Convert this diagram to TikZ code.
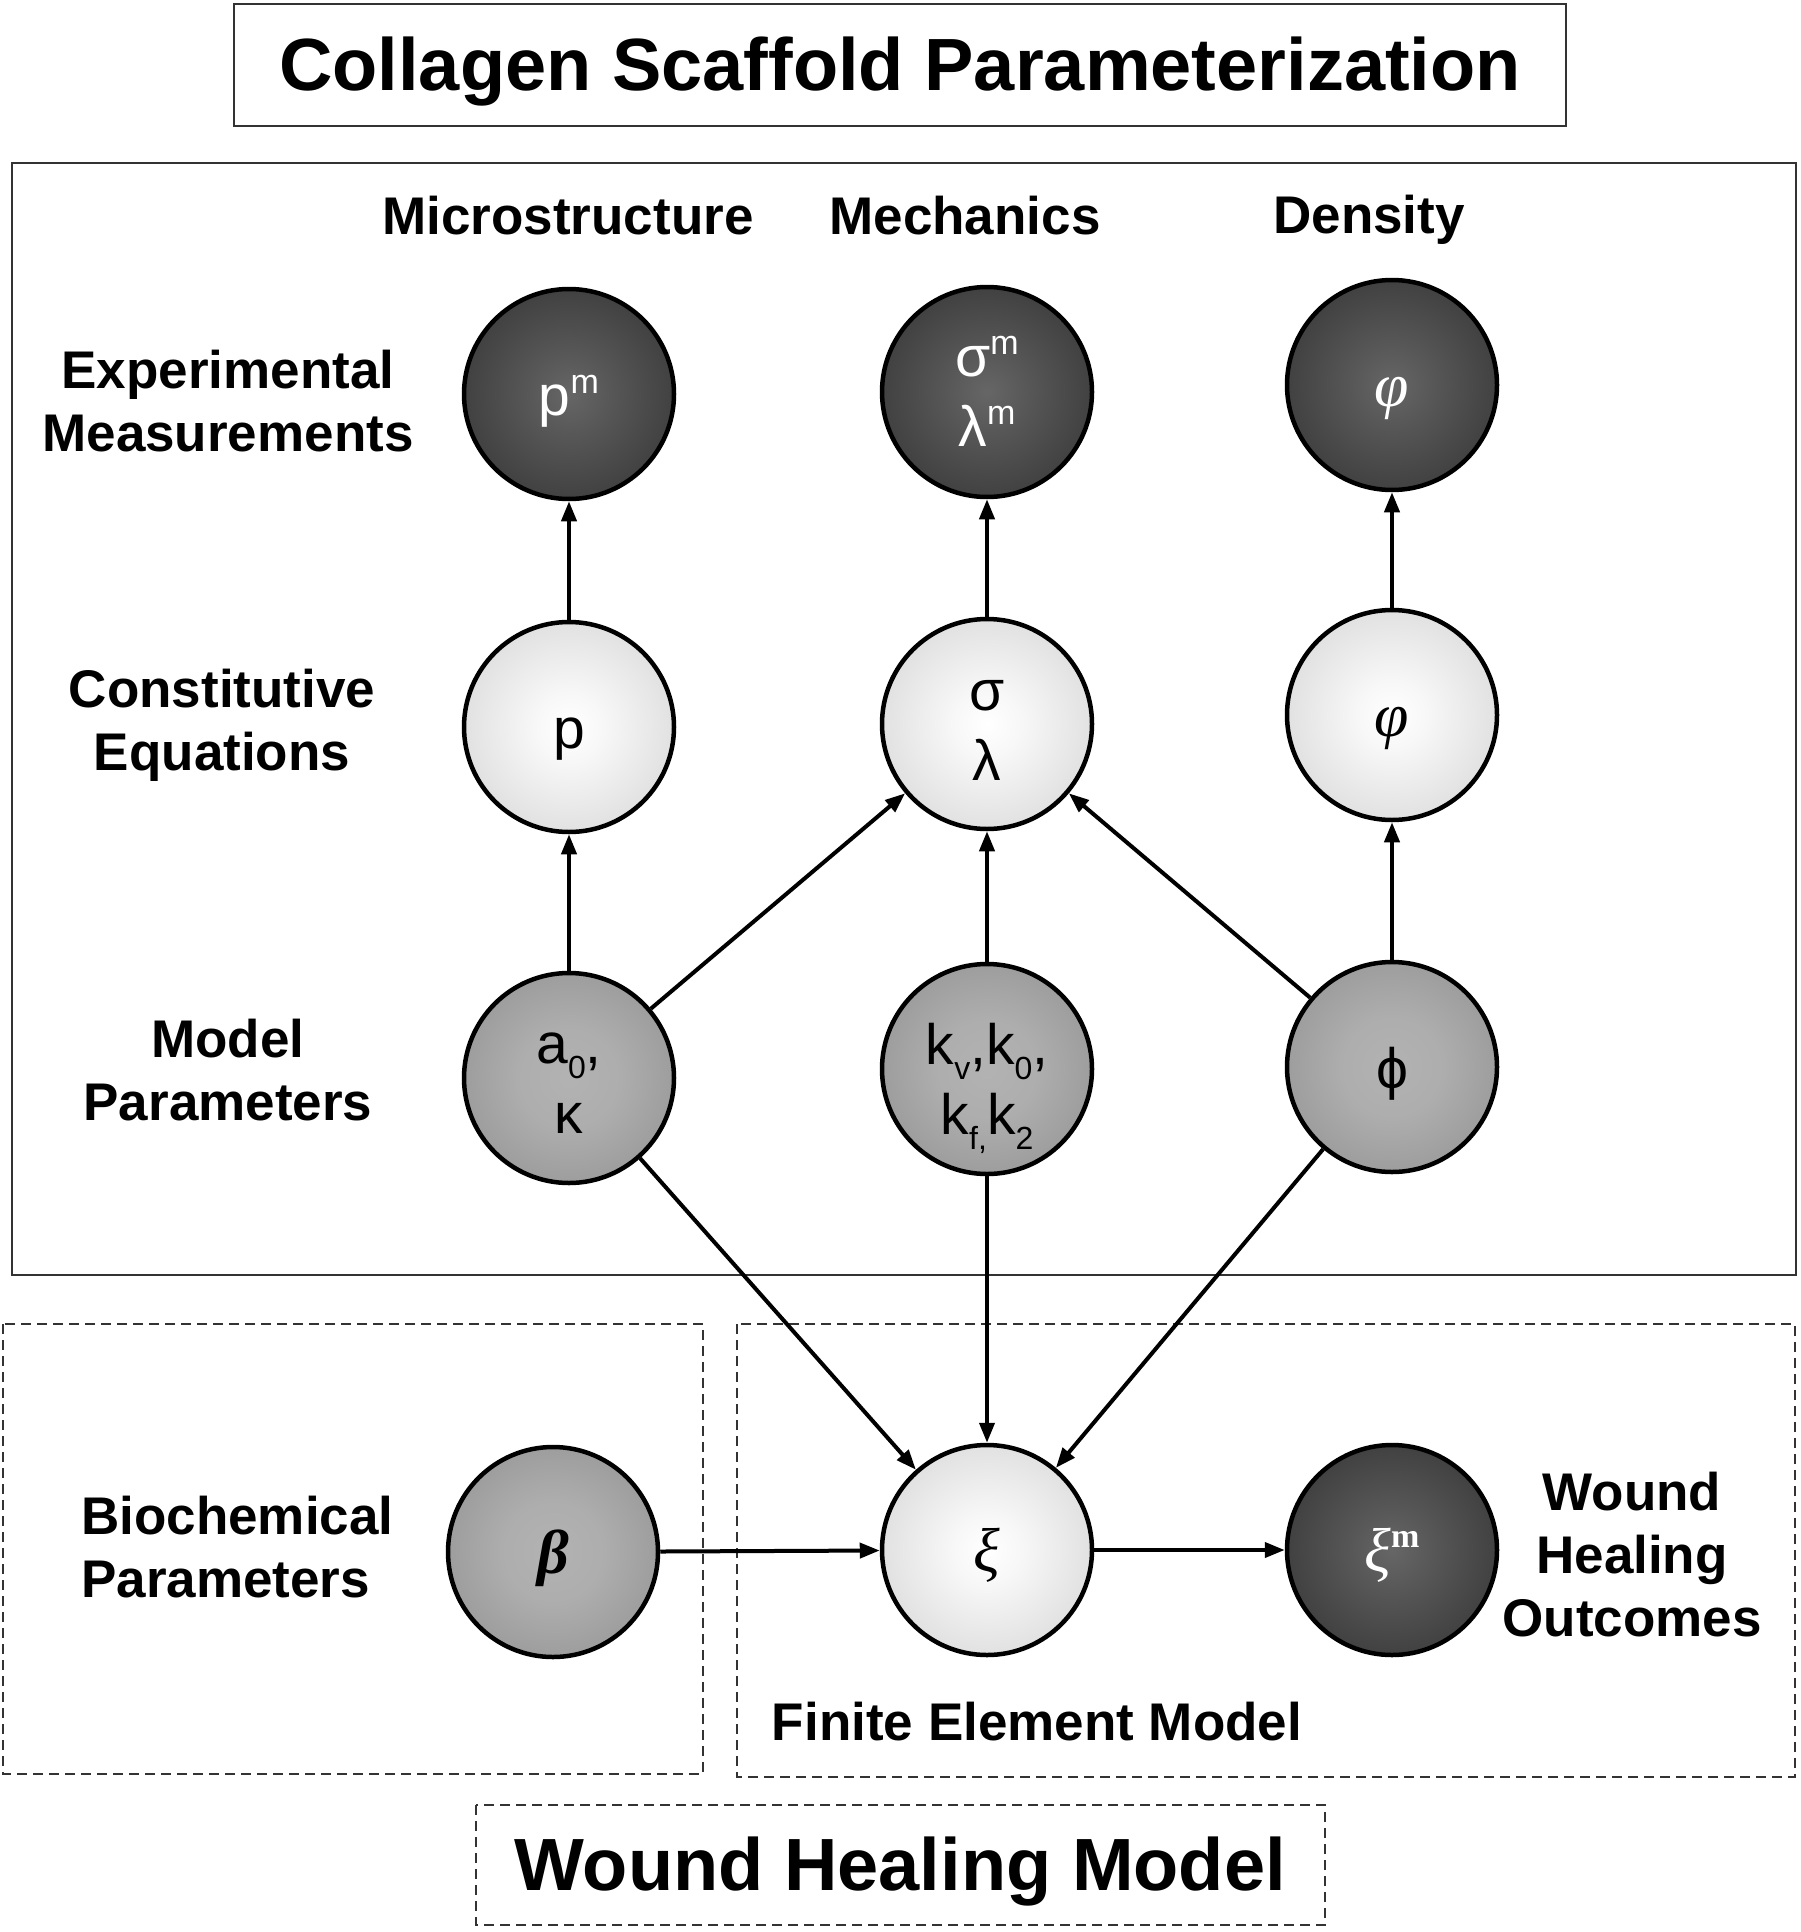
\documentclass[tikz,border=0pt]{standalone}
\usepackage{fontspec}
\setmainfont{Liberation Sans}
\newfontfamily\serifgr{Liberation Serif}
\usetikzlibrary{arrows.meta,shadings}
\pgfdeclareradialshading{darkball}{\pgfpoint{0bp}{0bp}}{color(0bp)=(black!60); color(10bp)=(black!66); color(49bp)=(black!88); color(50bp)=(black!88)}
\pgfdeclareradialshading{midball}{\pgfpoint{0bp}{0bp}}{color(0bp)=(black!30); color(12bp)=(black!32); color(49bp)=(black!50); color(50bp)=(black!50)}
\pgfdeclareradialshading{lightball}{\pgfpoint{0bp}{0bp}}{color(0bp)=(white); color(8bp)=(black!3); color(49bp)=(black!24); color(50bp)=(black!24)}
\newcommand{\supm}[1]{\raisebox{0.38em}{\fontsize{34}{34}\selectfont #1}}
\newcommand{\subx}[1]{\raisebox{-0.27em}{\fontsize{32}{32}\selectfont #1}}
\newcommand{\lowone}[1]{\raisebox{-21pt}[0pt][0pt]{#1}}
\newcommand{\lowtwo}[3]{\raisebox{-#1}[0pt][0pt]{\begin{tabular}[b]{@{}c@{}}#2\\#3\end{tabular}}}
\tikzset{
  ball/.style={circle, draw=black, line width=4.5pt, minimum size=210pt, inner sep=0pt,
    font=\fontsize{57}{70}\selectfont},
  darkb/.style={ball, shading=darkball, text=white},
  midb/.style={ball, shading=midball},
  lightb/.style={ball, shading=lightball},
  lab/.style={font=\fontsize{53}{63}\selectfont\bfseries, align=center, inner sep=0pt},
  bigtitle/.style={font=\fontsize{74}{80}\selectfont\bfseries, inner sep=0pt},
  conn/.style={line width=4pt, -{Triangle[length=20pt,width=15pt]}},
  dbox/.style={draw=black!80, line width=2.5pt, dash pattern=on 10pt off 6pt},
  sbox/.style={draw=black!80, line width=2.5pt},
  grk/.style={font=\fontsize{62}{68}\selectfont\serifgr\itshape},
}
\begin{document}
\begin{tikzpicture}[x=1pt,y=1pt]
\useasboundingbox (0,0) rectangle (1800,-1932);
% boxes
\draw[sbox] (234,-4) rectangle (1566,-126);
\node[bigtitle] (title) at (900,-72) {Collagen Scaffold Parameterization};
\draw[sbox] (12,-163) rectangle (1796,-1275);
\draw[dbox] (3,-1324) rectangle (703,-1774);
\draw[dbox] (737,-1324) rectangle (1795,-1777);
\draw[dbox] (476,-1805) rectangle (1325,-1925);
\node[bigtitle] (wtitle) at (900,-1872) {Wound Healing Model};
% column and row labels
\node[lab] (lmic) at (568,-216) {Microstructure};
\node[lab] (lmec) at (965,-216) {Mechanics};
\node[lab] (lden) at (1369,-220) {Density};
\node[lab] (lexp) at (228,-401) {Experimental\\Measurements};
\node[lab] (lcon) at (222,-725) {Constitutive\\Equations};
\node[lab] (lmod) at (228,-1070) {Model\\Parameters};
\node[lab, align=left, anchor=west] (lbio) at (81,-1547) {Biochemical\\Parameters};
\node[lab] (lout) at (1632,-1555) {Wound\\Healing\\Outcomes};
\node[lab] (lfem) at (1037,-1722) {Finite Element Model};
% nodes
\node[darkb] (pm) at (569,-394) {\lowone{p\supm{m}}};
\node[darkb] (sm) at (987,-392) {\lowtwo{54pt}{σ\supm{m}}{λ\supm{m}}};
\node[darkb, grk] (phim) at (1392,-385) {\lowone{φ}};
\node[lightb] (p) at (569,-727) {\lowone{p}};
\node[lightb] (sl) at (987,-724) {\lowtwo{56pt}{σ}{λ}};
\node[lightb, grk] (phi) at (1392,-715) {\lowone{φ}};
\node[midb] (a) at (569,-1078) {\lowtwo{55pt}{a\subx{0},}{κ}};
\node[midb] (k) at (987,-1069) {\lowtwo{65pt}{k\subx{v},k\subx{0},}{k\subx{f,}k\subx{2}}};
\node[midb] (ph) at (1392,-1067) {\lowone{ϕ}};
\node[midb, grk] (b) at (553,-1552) {\lowone{\bfseries β}};
\node[lightb, grk] (xi) at (987,-1550) {\lowone{ξ}};
\node[darkb, grk] (xim) at (1392,-1550) {\lowone{ξ{\upshape\bfseries\supm{m}}}};
% connectors
\draw[conn] (p) -- (pm);
\draw[conn] (sl) -- (sm);
\draw[conn] (phi) -- (phim);
\draw[conn] (a) -- (p);
\draw[conn] (a) -- (sl);
\draw[conn] (k) -- (sl);
\draw[conn] (ph) -- (sl);
\draw[conn] (ph) -- (phi);
\draw[conn] (a) -- (xi);
\draw[conn] (k) -- (xi);
\draw[conn] (ph) -- (xi);
\draw[conn] (b) -- (xi);
\draw[conn] (xi) -- (xim);
\end{tikzpicture}
\end{document}
